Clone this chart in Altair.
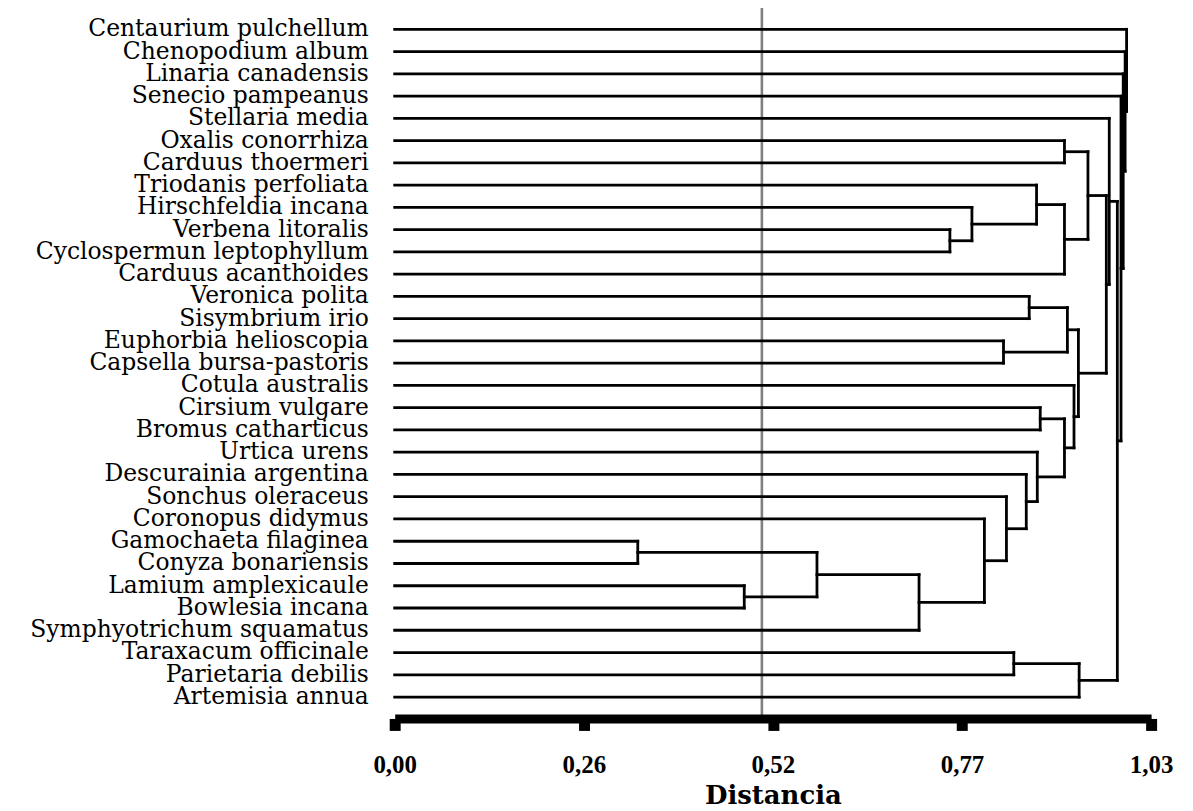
import json
import altair as alt
import pandas as pd

species = [
    "Centaurium pulchellum", "Chenopodium album", "Linaria canadensis",
    "Senecio pampeanus", "Stellaria media", "Oxalis conorrhiza",
    "Carduus thoermeri", "Triodanis perfoliata", "Hirschfeldia incana",
    "Verbena litoralis", "Cyclospermun leptophyllum", "Carduus acanthoides",
    "Veronica polita", "Sisymbrium irio", "Euphorbia helioscopia",
    "Capsella bursa-pastoris", "Cotula australis", "Cirsium vulgare",
    "Bromus catharticus", "Urtica urens", "Descurainia argentina",
    "Sonchus oleraceus", "Coronopus didymus", "Gamochaeta filaginea",
    "Conyza bonariensis", "Lamium amplexicaule", "Bowlesia incana",
    "Symphyotrichum squamatus", "Taraxacum officinale", "Parietaria debilis",
    "Artemisia annua",
]

# merges (node k is named "N<k>")
merge_left = [
    "Gamochaeta filaginea", "Lamium amplexicaule", "N0", "N2",
    "Coronopus didymus", "Sonchus oleraceus", "Descurainia argentina",
    "Urtica urens", "Cirsium vulgare", "N8", "Cotula australis",
    "Veronica polita", "Euphorbia helioscopia", "N11", "N13",
    "Oxalis conorrhiza", "Verbena litoralis", "Hirschfeldia incana",
    "Triodanis perfoliata", "N18", "N15", "N20", "Stellaria media",
    "Taraxacum officinale", "N23", "N22", "Senecio pampeanus",
    "Linaria canadensis", "Chenopodium album", "Centaurium pulchellum",
]
merge_right = [
    "Conyza bonariensis", "Bowlesia incana", "N1", "Symphyotrichum squamatus",
    "N3", "N4", "N5", "N6", "Bromus catharticus", "N7", "N9",
    "Sisymbrium irio", "Capsella bursa-pastoris", "N12", "N10",
    "Carduus thoermeri", "Cyclospermun leptophyllum", "N16", "N17",
    "Carduus acanthoides", "N19", "N14", "N21", "Parietaria debilis",
    "Artemisia annua", "N24", "N25", "N26", "N27", "N28",
]
merge_height = [
    0.331, 0.476, 0.575, 0.714, 0.803, 0.833, 0.860, 0.875, 0.879, 0.912,
    0.925, 0.864, 0.829, 0.916, 0.931, 0.912, 0.756, 0.786, 0.874, 0.912,
    0.944, 0.969, 0.973, 0.843, 0.932, 0.984, 0.989, 0.992, 0.9946, 0.9966,
]

tick_values = [0.0, 0.2575, 0.515, 0.7725, 1.03]
tick_labels = ["0,00", "0,26", "0,52", "0,77", "1,03"]
cut_value = 0.5

# ---- build dendrogram segments from the merge list ----
pos = {name: (i, 0.0) for i, name in enumerate(species)}
segs = []
for k, (a, b, h) in enumerate(zip(merge_left, merge_right, merge_height)):
    ya, ha = pos[a]
    yb, hb = pos[b]
    segs.append(dict(x=ha, x2=h, y=ya, y2=ya))
    segs.append(dict(x=hb, x2=h, y=yb, y2=yb))
    segs.append(dict(x=h, x2=h, y=ya, y2=yb))
    pos[f"N{k}"] = ((ya + yb) / 2.0, h)
seg_df = pd.DataFrame(segs)

leaf_df = pd.DataFrame({"name": species, "row": list(range(len(species))),
                        "h": [0.0] * len(species)})
cut_df = pd.DataFrame({"x": [cut_value], "y": [-1.05], "y2": [30.9627]})

label_expr = json.dumps(tick_labels) + "[round(datum.value / 0.2575)]"

xscale = alt.Scale(domain=[0, 1.03], nice=False, zero=False)
yscale = alt.Scale(domain=[-0.4925, 30.9627], reverse=True, nice=False, zero=False)
xaxis = alt.Axis(
    values=tick_values, labelExpr=label_expr, grid=False,
    domainColor="black", domainWidth=9, tickColor="black", tickWidth=11,
    tickSize=12, labelFont="Liberation Serif", labelFontWeight="bold",
    labelFontSize=25, labelColor="black", labelPadding=22, labelFlush=False,
    title="Distancia", titleFont="DejaVu Serif", titleFontWeight="bold",
    titleFontSize=26, titleColor="black", titlePadding=5, zindex=1,
)

segments = alt.Chart(seg_df).mark_rule(
    color="black", strokeWidth=2.8, strokeCap="square"
).encode(
    x=alt.X("x:Q", scale=xscale, axis=xaxis),
    x2="x2:Q",
    y=alt.Y("y:Q", scale=yscale, axis=None),
    y2="y2:Q",
)

cut = alt.Chart(cut_df).mark_rule(color="#808080", strokeWidth=2.6).encode(
    x=alt.X("x:Q", scale=xscale, axis=xaxis),
    y=alt.Y("y:Q", scale=yscale, axis=None),
    y2="y2:Q",
)

labels = alt.Chart(leaf_df).mark_text(
    align="right", baseline="middle", dx=-26, font="DejaVu Serif",
    fontSize=23.5, color="black",
).encode(
    x=alt.X("h:Q", scale=xscale, axis=xaxis),
    y=alt.Y("row:Q", scale=yscale, axis=None),
    text="name:N",
)

chart = alt.layer(cut, segments, labels).properties(
    width=759, height=702.5,
    padding={"left": 388, "top": 9, "right": 34, "bottom": 100},
    autosize=alt.AutoSizeParams(type="none"),
    background="white",
).configure_view(stroke=None)

chart.save("out.html", embed_options={"renderer": "svg", "actions": False})
